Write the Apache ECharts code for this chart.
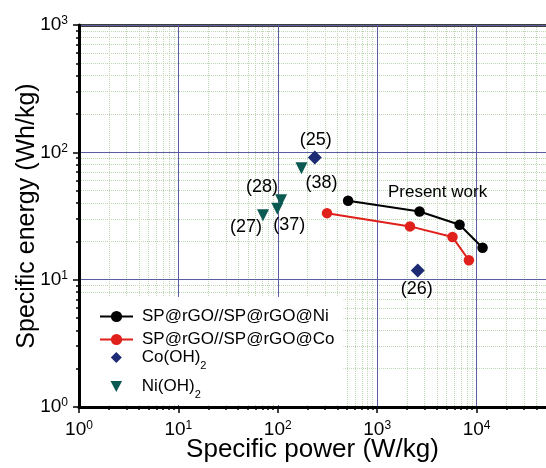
<!DOCTYPE html>
<html><head><meta charset="utf-8">
<script src="https://cdn.jsdelivr.net/npm/echarts@6/dist/echarts.min.js"></script>
<style>html,body{margin:0;padding:0;background:#fff}#c{width:546px;height:468px}</style>
</head><body><div id="c"></div>
<script>
// ---- data ----
const niComposite = [[510, 41.6], [2670, 34.3], [6750, 27.0], [11500, 17.8]];
const coComposite = [[313, 33.3], [2140, 26.2], [5730, 21.6], [8380, 14.2]];
const coOH2 = [[236, 91], [2560, 11.8]];
const niOH2 = [[173, 75], [108, 42], [99, 36], [71, 32]];
const coRefs = ['(25)', '(26)'];
const niRefs = ['(38)', '(28)', '(37)', '(27)'];
const seriesNames = ['SP@rGO//SP@rGO@Ni', 'SP@rGO//SP@rGO@Co', 'Co(OH)2', 'Ni(OH)2'];
const majorX = [1, 10, 100, 1000, 10000];
const majorY = [1, 10, 100, 1000];
const minorX = [2,3,4,5,6,7,8,9, 20,30,40,50,60,70,80,90, 200,300,400,500,600,700,800,900,
  2000,3000,4000,5000,6000,7000,8000,9000, 20000,30000,40000];
const minorY = [2,3,4,5,6,7,8,9, 20,30,40,50,60,70,80,90, 200,300,400,500,600,700,800,900];

// ---- styling (kept apart from data) ----
const coLabelOffsets = [[1, -18], [-1, 19]];
const niLabelOffsets = [[20, 15], [-19, -13], [12, 16], [-17, 12]];
const mainFont = "'Liberation Sans', Arial, sans-serif";
const diamondIcon = 'path://M0,-1L1,0L0,1L-1,0Z';
const triangleDownIcon = 'path://M-1,0L1,0L0,1.9Z';
const coColor = '#1d2a74';
const niColor = '#0b5a52';

function supLabel(v) {
  const e = Math.round(Math.log10(v));
  return '{b|10}{e|' + e + '}';
}
const supRich = {
  b: { fontSize: 19, fontFamily: mainFont, color: '#000' },
  e: { fontSize: 12, fontFamily: mainFont, color: '#000', padding: [0, 0, 8, 0] }
};

const chart = echarts.init(document.getElementById('c'), null, { renderer: 'canvas' });
const majorAxisCommon = {
  type: 'log', logBase: 10,
  axisLine: { show: true, lineStyle: { color: '#000', width: 3 } },
  axisTick: { show: true, length: 6, lineStyle: { color: '#000', width: 1.5 } },
  splitLine: { show: true, lineStyle: { color: '#5a5e9e', width: 1 } },
  minorTick: { show: false }, minorSplitLine: { show: false },
  nameLocation: 'middle', nameMoveOverlap: false
};
const minorAxisCommon = {
  type: 'log', logBase: 10,
  axisLine: { show: false },
  axisLabel: { show: false },
  axisTick: { show: true, length: 3, lineStyle: { color: '#000', width: 1.5 } },
  splitLine: { show: true, lineStyle: { color: '#bcd6b4', width: 1, type: 'dotted' } }
};
const legendText = {
  fontSize: 17, fontFamily: mainFont, color: '#000', padding: [0, 0, 0, 4],
  rich: { s: { fontSize: 11, fontFamily: mainFont, color: '#000', padding: [16, 0, 0, 0] } }
};
const legendFmt = function (n) { return n.replace('(OH)2', '(OH){s|2}'); };

const option = {
  backgroundColor: '#fff',
  animation: false,
  grid: { left: 79, right: 0, top: 25, bottom: 61, containLabel: false, outerBoundsMode: 'none' },
  xAxis: [
    Object.assign({}, majorAxisCommon, {
      min: 1, max: 50000, position: 'bottom', z: 3,
      name: 'Specific power (W/kg)', nameGap: 30,
      nameTextStyle: { fontSize: 26, fontFamily: mainFont, color: '#000' },
      axisTick: Object.assign({}, majorAxisCommon.axisTick, { customValues: majorX }),
      axisLabel: { customValues: majorX, margin: 13, formatter: supLabel, rich: supRich }
    }),
    Object.assign({}, minorAxisCommon, {
      min: 1, max: 50000, position: 'bottom', z: 1,
      axisTick: Object.assign({}, minorAxisCommon.axisTick, { customValues: minorX })
    }),
    {
      type: 'log', min: 1, max: 50000, position: 'top',
      axisLine: { show: true, lineStyle: { color: '#000', width: 2.5 } },
      axisTick: { show: false }, axisLabel: { show: false }, splitLine: { show: false }
    }
  ],
  yAxis: [
    Object.assign({}, majorAxisCommon, {
      min: 1, max: 1000, position: 'left', z: 3,
      name: 'Specific energy (Wh/kg)', nameGap: 39,
      nameTextStyle: { fontSize: 25, fontFamily: mainFont, color: '#000' },
      axisTick: Object.assign({}, majorAxisCommon.axisTick, { customValues: majorY }),
      axisLabel: { customValues: majorY, margin: 11, formatter: supLabel, rich: supRich }
    }),
    Object.assign({}, minorAxisCommon, {
      min: 1, max: 1000, position: 'left', z: 1,
      axisTick: Object.assign({}, minorAxisCommon.axisTick, { customValues: minorY })
    })
  ],
  legend: [
    {
      orient: 'vertical', left: 81, top: 297, z: 4,
      backgroundColor: '#fff',
      padding: [11, 9, 57, 18],
      itemWidth: 33, itemHeight: 14, itemGap: 6,
      data: seriesNames.slice(0, 2),
      formatter: legendFmt, textStyle: legendText
    },
    {
      orient: 'vertical', left: 81, top: 349, z: 5,
      padding: [0, 9, 0, 29.5],
      itemWidth: 33, itemHeight: 11, itemGap: 7,
      symbolKeepAspect: true, symbolRotate: 0,
      data: [
        { name: seriesNames[2], icon: diamondIcon },
        { name: seriesNames[3], icon: triangleDownIcon }
      ],
      formatter: legendFmt, textStyle: legendText
    }
  ],
  series: [
    {
      name: seriesNames[0], type: 'line', xAxisIndex: 0, yAxisIndex: 0,
      symbol: 'circle', symbolSize: 10.5,
      itemStyle: { color: '#000' }, lineStyle: { color: '#000', width: 2 },
      data: niComposite.map(function (p, i) {
        if (i !== 1) return p;
        return { value: p, label: { show: true, formatter: 'Present work', position: 'inside',
          offset: [18, -19], fontSize: 17, fontFamily: mainFont, color: '#000' } };
      }),
      z: 3
    },
    {
      name: seriesNames[1], type: 'line', xAxisIndex: 0, yAxisIndex: 0,
      symbol: 'circle', symbolSize: 10.5,
      itemStyle: { color: '#e0201b' }, lineStyle: { color: '#e0201b', width: 2 },
      data: coComposite, z: 3
    },
    {
      name: seriesNames[2], type: 'scatter', xAxisIndex: 0, yAxisIndex: 0,
      symbol: 'diamond', symbolSize: 14,
      itemStyle: { color: coColor, opacity: 1 },
      data: coOH2.map(function (p, i) {
        return { value: p, label: { show: true, formatter: coRefs[i], position: 'inside',
          offset: coLabelOffsets[i], fontSize: 18, fontFamily: mainFont, color: '#000' } };
      }), z: 3
    },
    {
      name: seriesNames[3], type: 'scatter', xAxisIndex: 0, yAxisIndex: 0,
      symbol: 'triangle', symbolRotate: 180, symbolSize: 12,
      itemStyle: { color: niColor, opacity: 1 },
      data: niOH2.map(function (p, i) {
        return { value: p, label: { show: true, formatter: niRefs[i], position: 'inside',
          offset: niLabelOffsets[i], fontSize: 18, fontFamily: mainFont, color: '#000' } };
      }), z: 3
    }
  ]
};
chart.setOption(option);
</script></body></html>
